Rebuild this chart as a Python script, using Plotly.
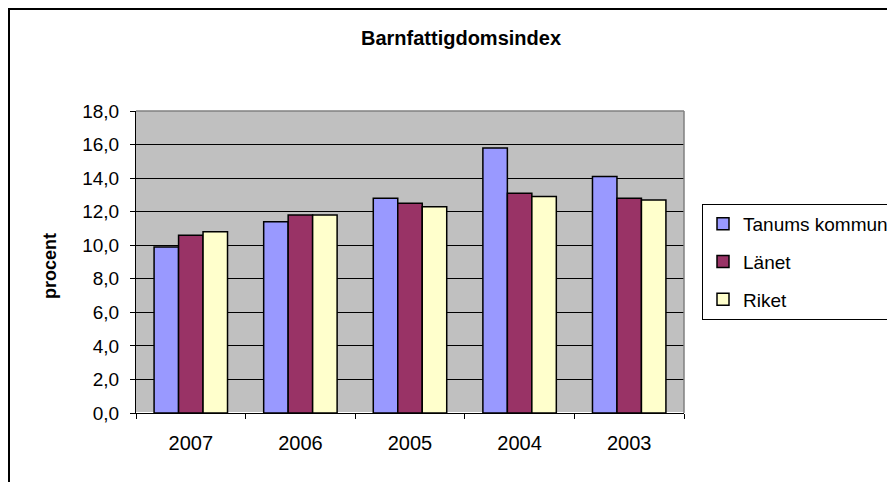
import plotly.graph_objects as go

years = ["2007", "2006", "2005", "2004", "2003"]
tanum = [9.9, 11.4, 12.8, 15.8, 14.1]
lanet = [10.6, 11.8, 12.5, 13.1, 12.8]
riket = [10.8, 11.8, 12.3, 12.9, 12.7]
series_names = ["Tanums kommun", "Länet", "Riket"]
colors = ["#9999FF", "#993366", "#FFFFCC"]

# page body has an 8px margin; work in figure coordinates
W, H = 887, 474
L, R, T, B = 128, 676, 103, 405

fig = go.Figure()
for i, (name, vals) in enumerate(zip(series_names, [tanum, lanet, riket])):
    fig.add_trace(go.Bar(
        x=years, y=vals, name=name, legendgroup=name,
        marker=dict(color=colors[i], line=dict(color="black", width=1.5)),
    ))

def px2x(px):
    return (px - L) / (R - L)

def py2y(py):
    return (B - py) / (B - T)

FONT = "Liberation Sans, Arial, sans-serif"

fig.update_layout(
    width=W, height=H,
    margin=dict(l=L, r=W - R, t=T, b=H - B, autoexpand=False),
    paper_bgcolor="white",
    plot_bgcolor="#C0C0C0",
    separators=",.",
    barmode="group",
    bargap=0.33,
    bargroupgap=0,
    font=dict(family=FONT, size=19, color="black"),
    title=dict(text="<b>Barnfattigdomsindex</b>", xref="container", yref="container",
               x=453 / W, xanchor="center", y=1 - 30 / H, yanchor="middle",
               font=dict(size=20)),
    legend=dict(x=px2x(694), y=py2y(196), xanchor="left", yanchor="top",
                bordercolor="black", borderwidth=1, bgcolor="white",
                traceorder="grouped", tracegroupgap=10, itemwidth=30,
                font=dict(size=19)),
    xaxis=dict(showline=True, linecolor="black", linewidth=1,
               ticks="outside", ticklen=5, tickcolor="black", tickson="boundaries",
               showgrid=False, tickfont=dict(size=20), ticklabelstandoff=12,
               automargin=False),
    yaxis=dict(range=[0, 18], dtick=2, tickformat=".1f",
               showline=True, linecolor="black", linewidth=1,
               ticks="outside", ticklen=5, tickcolor="black",
               showgrid=True, gridcolor="black", gridwidth=1,
               tickfont=dict(size=19), ticklabelstandoff=7, automargin=False),
    annotations=[
        dict(text="<b>procent</b>", xref="paper", yref="paper",
             x=px2x(42), y=py2y(258), xanchor="center", yanchor="middle",
             textangle=-90, showarrow=False, font=dict(size=18)),
    ],
    shapes=[
        dict(type="rect", xref="paper", yref="paper",
             x0=px2x(1), y0=py2y(600), x1=px2x(1000), y1=py2y(1),
             line=dict(color="black", width=2), layer="below"),
        dict(type="line", xref="paper", yref="paper",
             x0=0, y0=1, x1=1, y1=1, line=dict(color="#808080", width=1.5)),
        dict(type="line", xref="paper", yref="paper",
             x0=1, y0=0, x1=1, y1=1, line=dict(color="#808080", width=1.5)),
    ],
)

fig.write_html("out.html")
